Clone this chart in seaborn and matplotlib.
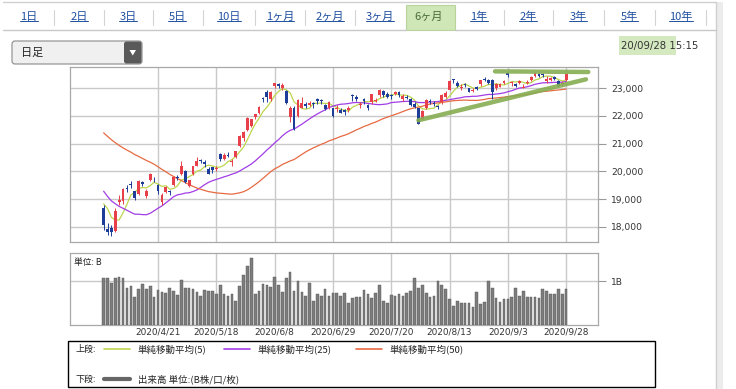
import numpy as np
import pandas as pd
import seaborn as sns
import matplotlib.pyplot as plt
from matplotlib.patches import Rectangle, FancyBboxPatch, Polygon

# closes before the window (Jan-Mar 2020), only used to seed the moving averages
prior_close = [23204, 23575, 23204, 23739, 23850, 24025, 23916, 23933, 24041, 24083,
               23864, 24031, 23795, 23827, 23343, 23215, 23379, 22977, 23205,
               22971, 23084, 23320, 23873, 23827, 23685, 23861, 23827, 23687, 23523,
               23194, 23400, 23479, 23386, 22605, 22426, 21948, 21142,
               21344, 21082, 21100, 21329, 20749, 19698, 19867, 19416, 18559, 17431,
               17002, 17011, 16726, 16552, 16887, 18092, 19546, 18664, 19389, 19084, 18917]

# trading days shown (2020/4/1 - 2020/9/28)
month_days = {
    4: [1, 2, 3, 6, 7, 8, 9, 10, 13, 14, 15, 16, 17, 20, 21, 22, 23, 24, 27, 28, 30],
    5: [1, 7, 8, 11, 12, 13, 14, 15, 18, 19, 20, 21, 22, 25, 26, 27, 28, 29],
    6: [1, 2, 3, 4, 5, 8, 9, 10, 11, 12, 15, 16, 17, 18, 19, 22, 23, 24, 25, 26, 29, 30],
    7: [1, 2, 3, 6, 7, 8, 9, 10, 13, 14, 15, 16, 17, 20, 21, 22, 27, 28, 29, 30, 31],
    8: [3, 4, 5, 6, 7, 11, 12, 13, 14, 17, 18, 19, 20, 21, 24, 25, 26, 27, 28, 31],
    9: [1, 2, 3, 4, 7, 8, 9, 10, 11, 14, 15, 16, 17, 18, 23, 24, 25, 28],
}
dates = [f'2020/{m}/{d}' for m, days in month_days.items() for d in days]

open_ = [18686, 17934, 17951, 17860, 18878, 18926, 19402, 19530, 19300, 19180, 19600, 19100, 19700, 19700, 19500, 18900, 19250, 19300, 19500, 19800, 19900,
         20000, 19470, 19900, 20200, 20400, 20350, 20100, 20150, 20100, 20620, 20450, 20600, 20350, 20500, 20900, 21200, 21500, 21650,
         21950, 22100, 22650, 22850, 22600, 23100, 23150, 23000, 22900, 21950, 22300, 22000, 22300, 22450, 22400, 22450, 22600, 22580, 22400, 22300, 22300, 22250,
         22200, 22200, 22200, 22750, 22700, 22400, 22600, 22400, 22500, 22550, 22750, 22900, 22800, 22750, 22800, 22850, 22600, 22700, 22600, 22450, 22300,
         21900, 22300, 22550, 22450, 22350, 22500, 22700, 22950, 23300, 23200, 23000, 23150, 23000, 22900, 23050, 23150, 23350, 23300, 23300, 23000,
         23050, 23200, 23550, 23200, 23150, 23200, 23000, 23200, 23300, 23450, 23500, 23480, 23250, 23300, 23400, 23250, 23150, 23300]
high = [18784, 18132, 18059, 18672, 19162, 19386, 19495, 19650, 19300, 19700, 19650, 19350, 19922, 19780, 19550, 19200, 19460, 19340, 19840, 19880, 20365,
        20050, 19700, 20200, 20500, 20450, 20400, 20150, 20150, 20200, 20680, 20650, 20700, 20450, 20750, 21300, 21450, 21950, 21900,
        22080, 22350, 22700, 22950, 22900, 23186, 23185, 23200, 22950, 22350, 22350, 22600, 22700, 22500, 22550, 22500, 22650, 22600, 22450, 22550, 22300, 22400,
        22300, 22250, 22350, 22800, 22750, 22500, 22650, 22450, 22800, 22650, 22980, 22950, 22850, 22800, 22900, 22900, 22800, 22750, 22650, 22500, 22300,
        22200, 22600, 22600, 22550, 22400, 22800, 22900, 23300, 23350, 23250, 23150, 23200, 23000, 23000, 23100, 23300, 23400, 23350, 23350, 23200,
        23200, 23300, 23600, 23250, 23200, 23300, 23150, 23300, 23450, 23580, 23550, 23550, 23450, 23400, 23450, 23300, 23250, 23550]
low = [17871, 17707, 17646, 17803, 18778, 18832, 19257, 19400, 18950, 19150, 19480, 19050, 19650, 19600, 19180, 18800, 19200, 19150, 19480, 19700, 19850,
       19590, 19440, 19880, 20180, 20300, 20150, 19900, 19950, 20000, 20380, 20420, 20500, 20200, 20480, 20880, 21100, 21450, 21600,
       21900, 22080, 22500, 22500, 22550, 23000, 23000, 22950, 22450, 21800, 21500, 21950, 22300, 22300, 22350, 22300, 22450, 22450, 22200, 22250, 21950, 22150,
       22100, 22050, 22150, 22550, 22550, 22300, 22450, 22200, 22450, 22500, 22700, 22700, 22650, 22600, 22750, 22700, 22550, 22600, 22350, 22300, 21700,
       21850, 22250, 22450, 22350, 22250, 22450, 22650, 22950, 23200, 23050, 22950, 23050, 22850, 22850, 22950, 23100, 23250, 23150, 22600, 22950,
       23050, 23150, 23400, 23100, 23050, 23150, 23000, 23150, 23250, 23400, 23400, 23400, 23200, 23250, 23300, 23050, 23100, 23250]
close = [18065, 17818, 17820, 18576, 18950, 19353, 19345, 19498, 19043, 19638, 19550, 19290, 19897, 19669, 19280, 19137, 19429, 19262, 19783, 19771, 20193,
         19619, 19674, 20179, 20390, 20366, 20267, 19914, 20037, 20133, 20433, 20595, 20552, 20388, 20741, 21271, 21419, 21916, 21877,
         22062, 22325, 22613, 22695, 22863, 23178, 23091, 23124, 22472, 22305, 21530, 22582, 22455, 22355, 22478, 22437, 22549, 22534, 22259, 22512, 21995, 22288,
         22122, 22145, 22306, 22714, 22614, 22438, 22529, 22291, 22784, 22587, 22945, 22770, 22696, 22717, 22884, 22751, 22715, 22657, 22397, 22339, 21710,
         22195, 22573, 22514, 22418, 22329, 22750, 22843, 23249, 23289, 23097, 23051, 23110, 22880, 22920, 22985, 23296, 23290, 23209, 22882, 23140,
         23138, 23247, 23465, 23205, 23089, 23274, 23032, 23235, 23406, 23559, 23454, 23475, 23319, 23360, 23346, 23087, 23204, 23511]
# volume, billions of shares
volume = [1.06, 1.06, 0.96, 1.07, 1.08, 1.06, 0.83, 0.88, 0.64, 0.82, 0.94, 0.82, 0.88, 0.64, 0.80, 0.74, 0.72, 0.84, 0.77, 0.69, 1.02,
          0.85, 0.84, 0.82, 0.75, 0.67, 0.80, 0.78, 0.77, 0.71, 0.92, 0.71, 0.66, 0.71, 0.55, 0.88, 1.14, 1.34, 1.53,
          0.71, 0.77, 0.94, 0.92, 0.86, 1.09, 0.92, 0.76, 1.07, 1.21, 0.77, 1.00, 0.74, 0.67, 0.96, 0.55, 0.71, 0.67, 0.82, 0.67, 0.73, 0.73,
          0.67, 0.73, 0.50, 0.61, 0.64, 0.64, 0.80, 0.71, 0.61, 0.73, 0.90, 0.55, 0.50, 0.69, 0.65, 0.71, 0.67, 0.73, 0.77, 1.07, 0.84,
          0.90, 0.73, 0.63, 0.67, 1.00, 0.92, 0.81, 0.58, 0.44, 0.55, 0.50, 0.50, 0.50, 0.40, 0.75, 0.48, 0.52, 1.00, 0.83, 0.61,
          0.53, 0.58, 0.58, 0.64, 0.84, 0.67, 0.77, 0.64, 0.63, 0.63, 0.61, 0.82, 0.77, 0.71, 0.71, 0.82, 0.71, 0.82]
tick_dates = ['2020/4/21', '2020/5/18', '2020/6/8', '2020/6/29', '2020/7/20', '2020/8/13', '2020/9/3', '2020/9/28']
price_ticks = [18000, 19000, 20000, 21000, 22000, 23000]
ma_windows = [5, 25, 50]
ma_colors = ['#bdd64e', '#a23de6', '#e66a42']

# hand-drawn green trend lines (x in trading-day index)
trend_low_x, trend_low_y = [81.0, 124.1], [21845, 23325]
trend_top_x, trend_top_y = [100.7, 124.7], [23612, 23590]

tab_labels = ['1日', '2日', '3日', '5日', '10日', '1ヶ月', '2ヶ月', '3ヶ月', '6ヶ月', '1年', '2年', '3年', '5年', '10年']
tab_centers = [29, 79, 128, 177, 229, 280, 330, 380, 429, 479, 528, 578, 629, 681]

sns.set_theme(style='white')
plt.rcParams['font.family'] = ['Noto Sans CJK JP', 'DejaVu Sans']

W, H = 736, 389
fig = plt.figure(figsize=(W / 100, H / 100), dpi=100)


def box(l, t, r, b):
    return [l / W, 1 - b / H, (r - l) / W, (b - t) / H]


# page decorations in pixel coordinates
ui = fig.add_axes([0, 0, 1, 1])
ui.set_xlim(0, W)
ui.set_ylim(H, 0)
ui.axis('off')
ui.plot([3, 716], [2, 2], color='#d0d0d0', lw=1)
ui.plot([716, 716], [2, H], color='#d0d0d0', lw=1)
ui.add_patch(Rectangle((717, 2), 6, H, fc='#ececec', ec='none'))
ui.plot([3, 406], [30, 30], color='#c8c8c8', lw=1)
ui.plot([455, 716], [30, 30], color='#c8c8c8', lw=1)
ui.add_patch(Rectangle((406, 5), 49, 25, fc='#cfe6b6', ec='#b9d39c', lw=0.8))
seps = [(a + b) / 2 for a, b in zip(tab_centers[:-1], tab_centers[1:])] + [706]
for s in seps:
    if s not in (404.5, 454.0):
        ui.plot([s, s], [10, 25], color='#d4d4d4', lw=0.8)
tab_texts = []
for lab, cx in zip(tab_labels, tab_centers):
    sel = lab == '6ヶ月'
    t = ui.text(cx, 17, lab, ha='center', va='center', fontsize=8,
                color='#4a6b3a' if sel else '#1f4f9f')
    if not sel:
        tab_texts.append(t)

ui.add_patch(FancyBboxPatch((12, 41), 130, 23, boxstyle='round,pad=0,rounding_size=3',
                            fc='#f0f0f0', ec='#8a8a8a', lw=0.8))
ui.add_patch(FancyBboxPatch((124, 41.5), 17.5, 22, boxstyle='round,pad=0,rounding_size=2.5',
                            fc='#595959', ec='none'))
ui.add_patch(Polygon([(129.5, 50), (136, 50), (132.75, 55.5)], closed=True, fc='white', ec='none'))
ui.text(21, 53, '日足', ha='left', va='center', fontsize=8, color='#222222')

ui.add_patch(Rectangle((619, 36), 57, 19, fc='#d5e9c0', ec='none'))
ui.text(621, 46, '20/09/28 15:15', ha='left', va='center', fontsize=7.3, color='#333333',
        family='DejaVu Sans')

ui.add_patch(Rectangle((68, 341), 587, 46, fc='white', ec='black', lw=1))
ui.text(75, 349, '上段:', ha='left', va='center', fontsize=6.5, color='#222')
ui.text(75, 379, '下段:', ha='left', va='center', fontsize=6.5, color='#222')
leg_x = [(104, 138), (224, 257), (356, 390)]
for (lx, tx), w, c in zip(leg_x, ma_windows, ma_colors):
    ui.plot([lx, lx + 26], [349, 349], color=c, lw=1.2)
    ui.text(tx, 349, f'単純移動平均({w})', ha='left', va='center', fontsize=6.8, color='#222')
ui.plot([104, 130], [379, 379], color='#666666', lw=3)
ui.text(138, 379, '出来高 単位:(B株/口/枚)', ha='left', va='center', fontsize=6.8, color='#222')

# price panel
x = np.arange(len(close))
o, h, l, c = map(np.array, (open_, high, low, close))
full = pd.Series(prior_close + close, dtype=float)
ax = fig.add_axes(box(70, 66.5, 598, 242.3))
ax.set_facecolor('white')
ax.set_xlim(-8.65, 127.2)
ax.set_ylim(17436, 23788)
tick_pos = [dates.index(d) for d in tick_dates]
ax.set_xticks(tick_pos)
ax.set_yticks(price_ticks)
ax.grid(True, color='#c9c9c9', lw=1)
ax.set_axisbelow(True)

for w, col in zip(ma_windows, ma_colors):
    ma = full.rolling(w).mean().iloc[-len(close):].to_numpy()
    sns.lineplot(x=x, y=ma, ax=ax, color=col, lw=0.9, zorder=2)

up = c >= o
col = np.where(up, '#e8404a', '#1d3d98')
ax.vlines(x, l, h, colors=col, lw=0.7, zorder=3)
ax.bar(x, np.maximum(np.abs(c - o), 35), bottom=np.minimum(o, c), width=0.72,
       color=col, lw=0, zorder=4)

ax.plot(trend_low_x, trend_low_y, color='#86ad52', lw=3.2, alpha=0.9, solid_capstyle='round', zorder=5)
ax.plot(trend_top_x, trend_top_y, color='#86ad52', lw=3.2, alpha=0.9, solid_capstyle='round', zorder=5)

ax.yaxis.tick_right()
ax.set_yticklabels([f'{v:,}' for v in price_ticks])
ax.tick_params(axis='y', right=True, length=5.5, width=0.8, color='#999999', pad=4,
               labelsize=6.6, labelcolor='#333333')
ax.tick_params(axis='x', bottom=False, labelbottom=False)
for s in ax.spines.values():
    s.set_color('#a8a8a8')
    s.set_linewidth(0.9)
ax.set_xlabel('')
ax.set_ylabel('')

# volume panel
vx = fig.add_axes(box(70, 252.5, 598, 325))
vx.set_facecolor('white')
vx.set_xlim(-8.65, 127.2)
vx.set_ylim(0, 1.648)
vx.set_xticks(tick_pos)
vx.set_xticklabels(tick_dates)
vx.set_yticks([1])
vx.set_yticklabels(['1B'])
vx.grid(True, color='#c9c9c9', lw=1)
vx.set_axisbelow(True)
vx.bar(x, volume, width=0.68, color='#7d7d7d', edgecolor='#555555', lw=0.3, zorder=3)
vx.yaxis.tick_right()
vx.tick_params(axis='y', right=True, length=5.5, width=0.8, color='#999999', pad=4,
               labelsize=6.6, labelcolor='#333333')
vx.tick_params(axis='x', bottom=False, length=0, pad=1.5, labelsize=6.4, labelcolor='#333333')
for t in vx.get_xticklabels():
    t.set_family('DejaVu Sans')
for t in ax.get_yticklabels() + vx.get_yticklabels():
    t.set_family('DejaVu Sans')
for s in vx.spines.values():
    s.set_color('#a8a8a8')
    s.set_linewidth(0.9)
vx.text(0.008, 0.86, '単位: B', transform=vx.transAxes, fontsize=6.3, color='#222',
        ha='left', va='center')

# underline the tab links
fig.canvas.draw()
r = fig.canvas.get_renderer()
for t in tab_texts:
    bb = t.get_window_extent(r)
    ui.plot([bb.x0, bb.x1], [H - bb.y0 - 1, H - bb.y0 - 1], color='#1f4f9f', lw=0.7)

fig.savefig('out.png', dpi=100)
